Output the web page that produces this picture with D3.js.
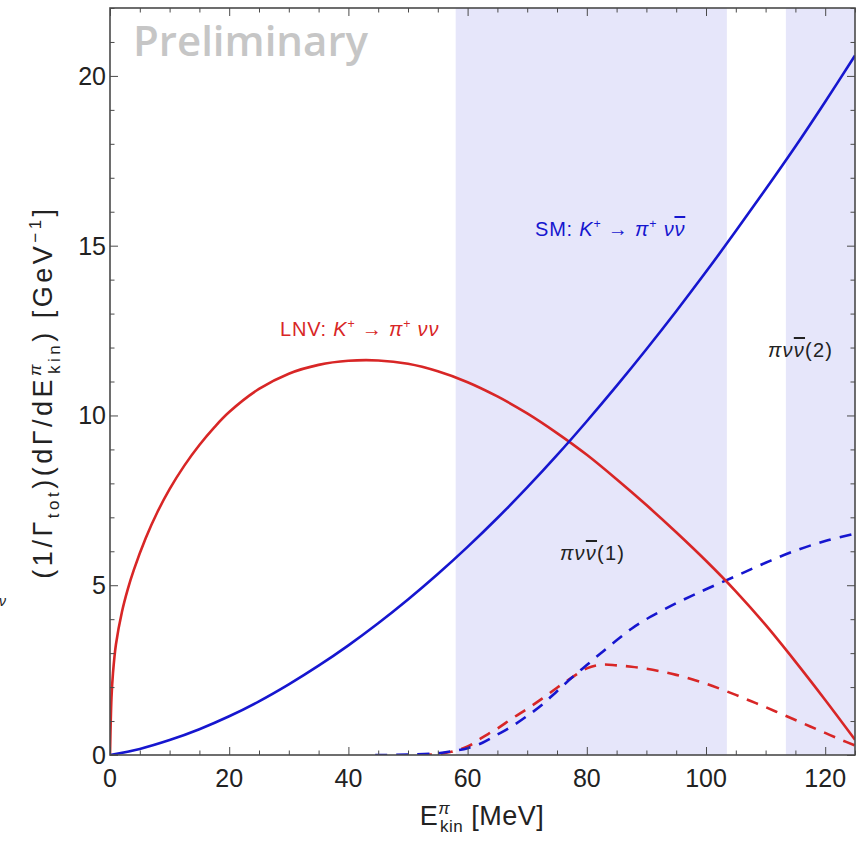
<!DOCTYPE html>
<html>
<head>
<meta charset="utf-8">
<script src="https://cdn.jsdelivr.net/npm/d3@7"></script>
<style>
  html, body { margin: 0; padding: 0; background: #fff; }
  svg { display: block; }
  text { font-family: "Liberation Sans", Arial, sans-serif; }
</style>
</head>
<body>
<svg id="chart" width="858" height="841"></svg>
<script>
// ---------------- data ----------------
const smE   = [0, 5, 10, 15, 20, 25, 30, 35, 40, 45, 50, 55, 60, 65, 70, 75, 80, 85, 90, 95, 100, 105, 110, 115, 120, 125];
const smVal = [0, 0.18, 0.44, 0.76, 1.14, 1.58, 2.08, 2.63, 3.23, 3.88, 4.58, 5.33, 6.13, 6.98, 7.88, 8.83, 9.83, 10.87, 11.95, 13.07, 14.23, 15.43, 16.66, 17.92, 19.24, 20.6];

const lnvE   = [0, 0.25, 0.5, 1, 2, 3, 4, 6, 8, 10, 12.5, 15, 17.5, 20, 25, 30, 35, 40, 45, 50, 55, 60, 65, 70, 75, 80, 85, 90, 95, 100, 105, 110, 115, 120, 125];
const lnvVal = [0, 1.69, 2.41, 3.26, 4.21, 4.89, 5.45, 6.39, 7.17, 7.83, 8.53, 9.13, 9.65, 10.1, 10.78, 11.23, 11.49, 11.61, 11.62, 11.52, 11.3, 10.98, 10.56, 10.06, 9.48, 8.84, 8.12, 7.36, 6.56, 5.72, 4.82, 3.83, 2.75, 1.62, 0.45];

const smCutE   = [44.5, 50, 55, 58, 60, 62.5, 65, 67.5, 70, 72.5, 75, 77.5, 80, 82.5, 85, 87.5, 90, 92.5, 95, 97.5, 100, 105, 110, 115, 120, 125];
const smCutVal = [0, 0.01, 0.05, 0.13, 0.2, 0.36, 0.6, 0.85, 1.15, 1.48, 1.88, 2.28, 2.65, 3.02, 3.38, 3.72, 4.0, 4.24, 4.47, 4.68, 4.88, 5.27, 5.66, 6.02, 6.3, 6.52];

const lnvCutE   = [52, 55, 57.5, 60, 62.5, 65, 67.5, 70, 72.5, 75, 77.5, 80, 82.5, 85, 87.5, 90, 92.5, 95, 97.5, 100, 102.5, 105, 107.5, 110, 112.5, 115, 117.5, 120, 122.5, 125];
const lnvCutVal = [0, 0.03, 0.1, 0.25, 0.52, 0.78, 1.08, 1.36, 1.66, 1.98, 2.28, 2.55, 2.66, 2.64, 2.6, 2.54, 2.46, 2.36, 2.24, 2.1, 1.94, 1.77, 1.59, 1.41, 1.22, 1.03, 0.84, 0.65, 0.46, 0.28];

const bandStart = [58, 113.4];
const bandEnd   = [103.5, 125];

const xTicks = [0, 20, 40, 60, 80, 100, 120];
const yTicks = [0, 5, 10, 15, 20];

// ---------------- layout ----------------
const svg = d3.select("#chart");
const pLeft = 110, pRight = 855, pTop = 8, pBottom = 755;
const x = d3.scaleLinear().domain([0, 125]).range([pLeft, pRight]);
const y = d3.scaleLinear().domain([0, 22]).range([pBottom, pTop]);

const blue = "#1616cf", red = "#d82626";

svg.append("clipPath").attr("id", "clip")
  .append("rect").attr("x", pLeft).attr("y", pTop).attr("width", pRight - pLeft).attr("height", pBottom - pTop);

// shaded regions
const bands = bandStart.map((s, i) => ({ s, e: bandEnd[i] }));
svg.append("g").selectAll("rect").data(bands).join("rect")
  .attr("x", d => x(d.s)).attr("width", d => x(d.e) - x(d.s))
  .attr("y", pTop).attr("height", pBottom - pTop)
  .attr("fill", "#e6e6fa");

// Preliminary watermark
svg.append("text").attr("x", 133).attr("y", 56)
  .style("font-family", "'Open Sans', 'Noto Sans', sans-serif")
  .style("font-weight", "600").style("font-size", "42px").attr("fill", "#c6c6c6")
  .text("Preliminary");

// curves
const line = (xs) => d3.line().x((d, i) => x(xs[i])).y(d => y(d)).curve(d3.curveCatmullRom.alpha(0.5));
const gCurves = svg.append("g").attr("clip-path", "url(#clip)");
function drawCurve(xs, ys, color, dashed) {
  gCurves.append("path").datum(ys)
    .attr("d", line(xs))
    .attr("fill", "none").attr("stroke", color).attr("stroke-width", 2.6)
    .attr("stroke-dasharray", dashed ? "12,9" : null);
}
drawCurve(lnvCutE, lnvCutVal, red, true);
drawCurve(smCutE, smCutVal, blue, true);
drawCurve(lnvE, lnvVal, red, false);
drawCurve(smE, smVal, blue, false);

// frame with inward ticks on all sides
const frameColor = "#4a4a4a";
const gAxes = svg.append("g");
const xMinor = d3.range(0, 126, 5).filter(v => v % 20 !== 0);
const yMinor = d3.range(0, 22.01, 1).filter(v => v % 5 !== 0);

function addX(sel, ticks, len, isTop) {
  const ax = (isTop ? d3.axisTop(x) : d3.axisBottom(x)).tickValues(ticks).tickSizeInner(-len).tickSizeOuter(0).tickFormat("");
  sel.call(ax);
}
function addY(sel, ticks, len, isRight) {
  const ax = (isRight ? d3.axisRight(y) : d3.axisLeft(y)).tickValues(ticks).tickSizeInner(-len).tickSizeOuter(0).tickFormat("");
  sel.call(ax);
}
const gb = gAxes.append("g").attr("transform", `translate(0,${pBottom})`);
addX(gb.append("g"), xTicks, 8, false);
addX(gb.append("g"), xMinor, 4.5, false);
const gt = gAxes.append("g").attr("transform", `translate(0,${pTop})`);
addX(gt.append("g"), xTicks, 8, true);
addX(gt.append("g"), xMinor, 4.5, true);
const gl = gAxes.append("g").attr("transform", `translate(${pLeft},0)`);
addY(gl.append("g"), yTicks, 8, false);
addY(gl.append("g"), yMinor, 4.5, false);
const gr = gAxes.append("g").attr("transform", `translate(${pRight},0)`);
addY(gr.append("g"), yTicks, 8, true);
addY(gr.append("g"), yMinor, 4.5, true);
gAxes.selectAll(".domain").remove();
gAxes.selectAll("line").attr("stroke", frameColor).attr("stroke-width", 1);

svg.append("rect").attr("x", pLeft).attr("y", pTop).attr("width", pRight - pLeft).attr("height", pBottom - pTop)
  .attr("fill", "none").attr("stroke", frameColor).attr("stroke-width", 1.6);

// tick labels
svg.append("g").selectAll("text").data(xTicks).join("text")
  .attr("x", d => x(d)).attr("y", 787).attr("text-anchor", "middle")
  .style("font-size", "25px").attr("fill", "#222").text(d => d);
svg.append("g").selectAll("text").data(yTicks).join("text")
  .attr("x", pLeft - 4).attr("y", d => y(d) + 9).attr("text-anchor", "end")
  .style("font-size", "25px").attr("fill", "#222").text(d => d);

// x axis title
const xt = svg.append("text").attr("x", 482).attr("y", 825).attr("text-anchor", "middle")
  .style("font-size", "27px").style("letter-spacing", "0.5px").attr("fill", "#222");
xt.append("tspan").text("E");
xt.append("tspan").attr("dy", -11).style("font-size", "17px").style("font-style", "italic").text("π");
xt.append("tspan").attr("dx", -10).attr("dy", 18).style("font-size", "17px").text("kin");
xt.append("tspan").attr("dy", -7).text(" [MeV]");

// y axis title
const yt = svg.append("text").attr("transform", "translate(52,392) rotate(-90)").attr("text-anchor", "middle")
  .style("font-size", "27px").style("letter-spacing", "3.5px").attr("fill", "#222");
yt.append("tspan").text("(1/Γ");
yt.append("tspan").attr("dy", 7).style("font-size", "17px").text("tot");
yt.append("tspan").attr("dy", -7).text(")(dΓ/dE");
yt.append("tspan").attr("dy", -11).style("font-size", "17px").style("font-style", "italic").text("π");
yt.append("tspan").attr("dx", -13).attr("dy", 19).style("font-size", "17px").text("kin");
yt.append("tspan").attr("dy", -8).text(") [GeV");
yt.append("tspan").attr("dy", -11).style("font-size", "17px").text("−1");
yt.append("tspan").attr("dy", 11).text("]");

// in-plot labels
function label(xp, yp, color, parts, size, ls) {
  const t = svg.append("text").attr("x", xp).attr("y", yp).style("font-size", size + "px")
    .style("letter-spacing", ls + "px").attr("fill", color);
  parts.forEach(p => {
    const s = t.append("tspan").text(p.t);
    if (p.i) s.style("font-style", "italic");
    if (p.sup) s.attr("dy", -8).style("font-size", (size * 0.62) + "px");
    if (p.down) s.attr("dy", 8);
    if (p.o) s.style("text-decoration", "overline");
  });
  return t;
}
label(535, 236, blue, [
  { t: "SM: " }, { t: "K", i: 1 }, { t: "+", sup: 1 }, { t: "  →  ", down: 1 }, { t: "π", i: 1 }, { t: "+", sup: 1 },
  { t: " ν", i: 1, down: 1 }, { t: "ν", i: 1, o: 1 }
], 20, 0.8);
label(280, 336, red, [
  { t: "LNV:   " }, { t: "K", i: 1 }, { t: "+", sup: 1 }, { t: "  →  ", down: 1 }, { t: "π", i: 1 }, { t: "+", sup: 1 },
  { t: " νν", i: 1, down: 1 }
], 20, 0.8);
label(560, 560, "#222", [{ t: "πν", i: 1 }, { t: "ν", i: 1, o: 1 }, { t: "(1)" }], 20, 1.2);
label(768, 357, "#222", [{ t: "πν", i: 1 }, { t: "ν", i: 1, o: 1 }, { t: "(2)" }], 20, 1.2);

// stray glyph at the left edge of the reference
svg.append("text").attr("x", -1).attr("y", 606).style("font-size", "14px").style("font-style", "italic")
  .attr("fill", "#222").text("ν");
</script>
</body>
</html>
